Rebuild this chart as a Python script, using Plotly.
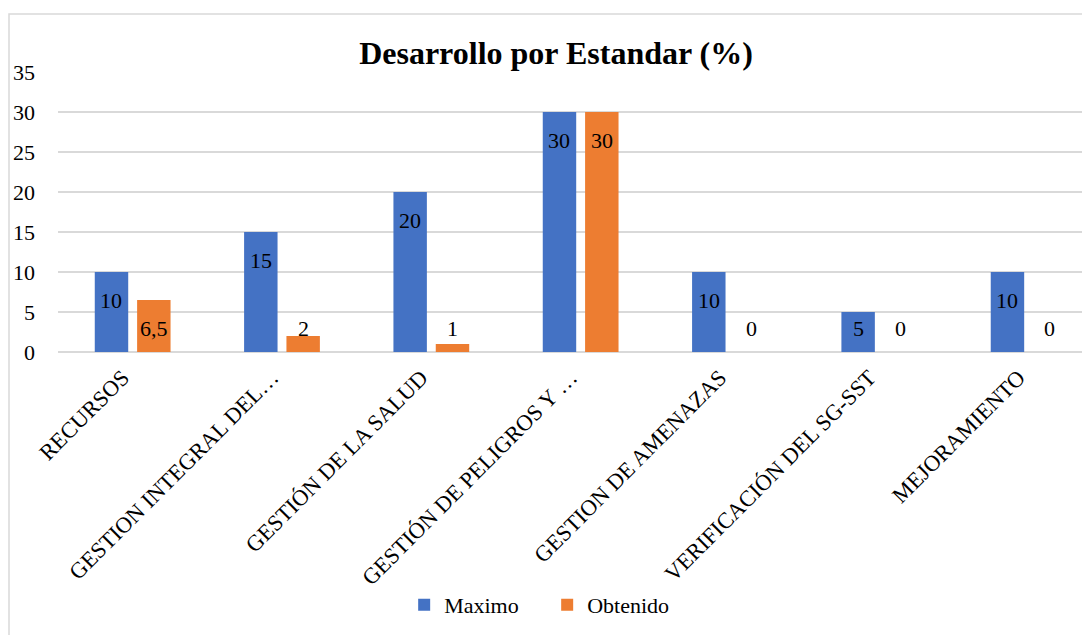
import plotly.graph_objects as go

categorias = [
    "RECURSOS",
    "GESTION INTEGRAL DEL…",
    "GESTIÓN DE LA SALUD",
    "GESTIÓN DE PELIGROS Y …",
    "GESTION DE AMENAZAS",
    "VERIFICACIÓN DEL SG-SST",
    "MEJORAMIENTO",
]
maximo = [10, 15, 20, 30, 10, 5, 10]
obtenido = [6.5, 2, 1, 30, 0, 0, 0]

FONT = "Liberation Serif, Times New Roman, serif"
AZUL = "#4472C4"
NARANJA = "#ED7D31"
GRIS = "#D9D9D9"

# la pagina deja 8px de margen en el body: el lienzo empieza en (8, 8)
W, H = 1082, 627
L, T, B = 50, 64, 283
PW, PH = W - L, H - T - B


def etiqueta(v):
    return f"{v:g}".replace(".", ",")


fig = go.Figure()
for nombre, valores, color in [("Maximo", maximo, AZUL), ("Obtenido", obtenido, NARANJA)]:
    fig.add_trace(go.Bar(
        name=nombre,
        x=list(range(len(categorias))),
        y=valores,
        marker=dict(color=color, line=dict(width=0)),
    ))

# etiquetas estilo Excel "extremo interno": 28px bajo el tope, sin bajar del eje
anotaciones = []
for valores, dx in [(maximo, -21.2), (obtenido, 21.2)]:
    for i, v in enumerate(valores):
        anotaciones.append(dict(
            x=i, y=max(v - 3.5, 3), xref="x", yref="y",
            text=etiqueta(v), showarrow=False,
            xshift=dx, yanchor="middle", xanchor="center",
            font=dict(family=FONT, size=22, color="black"),
        ))

fig.update_layout(
    width=W,
    height=H,
    margin=dict(l=L, r=0, t=T, b=B),
    paper_bgcolor="white",
    plot_bgcolor="white",
    font=dict(family=FONT, size=22, color="black"),
    barmode="group",
    bargap=0.433,
    bargroupgap=0.21,
    title=dict(
        text="<b>Desarrollo por Estandar (%)</b>",
        font=dict(family=FONT, size=32, color="black"),
        x=0.4826, xref="paper", xanchor="center",
        y=1 - 45 / H, yref="container", yanchor="middle",
    ),
    xaxis=dict(
        tickmode="array",
        tickvals=list(range(len(categorias))),
        ticktext=categorias,
        range=[-0.5, 6.411],
        tickangle=-45,
        showgrid=False,
        showline=False,
        zeroline=False,
        ticks="",
        ticklabelstandoff=7,
        ticklabelshift=-10,
        tickfont=dict(family=FONT, size=22.5, color="black"),
    ),
    yaxis=dict(
        range=[0, 35],
        dtick=5,
        showgrid=True,
        gridcolor=GRIS,
        gridwidth=1.5,
        zeroline=True,
        zerolinecolor=GRIS,
        zerolinewidth=1.5,
        showline=False,
        ticks="",
        ticklabelstandoff=22,
        tickfont=dict(family=FONT, size=22, color="black"),
    ),
    legend=dict(
        orientation="h",
        x=0.474, xanchor="center",
        y=(PH - 597 + T) / PH, yanchor="middle",
        font=dict(family=FONT, size=22, color="black"),
        itemwidth=30,
        entrywidth=98,
        bgcolor="rgba(0,0,0,0)",
    ),
    annotations=anotaciones,
    shapes=[dict(
        type="rect", xref="paper", yref="paper",
        x0=(1 - L) / PW, x1=(W + 20 - L) / PW,
        y0=(T + PH - H - 20) / PH, y1=(T + PH - 6) / PH,
        line=dict(color=GRIS, width=1.5),
        fillcolor="rgba(0,0,0,0)",
        layer="below",
    )],
)

fig.write_html("out.html")
